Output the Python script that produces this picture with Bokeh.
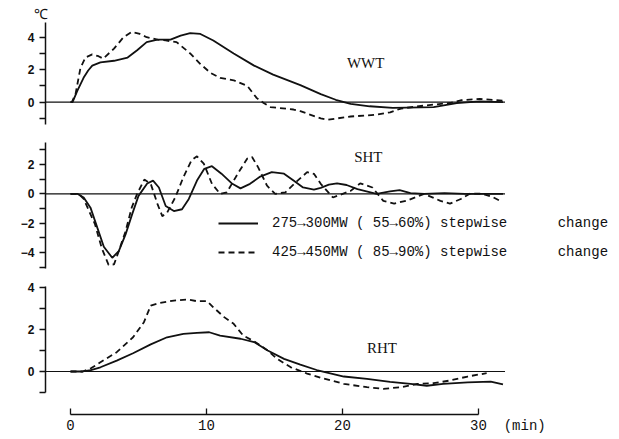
from bokeh.plotting import figure
from bokeh.layouts import column
from bokeh.models import Label, Legend, LegendItem, FixedTicker, Range1d, Title
from bokeh.embed import file_html
from bokeh.resources import INLINE

# ---------------- data (time in min, temperature deviation in deg C) -------------
wwt_a_t = [0, 0.15, 0.5, 0.96, 1.3, 1.6, 2.2, 3.2, 4.2, 4.9, 5.6, 6.4, 7.35, 8.1, 8.8, 9.55,
           10.5, 12.0, 13.5, 14.9, 16.9, 18.4, 19.5, 20.6, 22.0, 23.7, 26.7, 28.4, 30.1, 31.8]
wwt_a_v = [0, 0, 0.7, 1.5, 1.95, 2.25, 2.45, 2.55, 2.75, 3.2, 3.7, 3.85, 3.85, 4.1, 4.25, 4.2,
           3.8, 3.0, 2.25, 1.7, 1.05, 0.5, 0.15, -0.1, -0.25, -0.35, -0.3, -0.05, 0.05, 0.0]
wwt_b_t = [0, 0.1, 0.37, 0.73, 1.1, 1.6, 2.06, 2.4, 3.2, 3.9, 4.5, 5.1, 5.6, 6.4, 7.0, 7.8,
           8.8, 9.55, 10.3, 11.0, 12.0, 13.0, 13.7, 14.2, 14.7, 16.4, 16.9, 18.4, 18.9, 20.6,
           22.5, 23.5, 24.3, 26.2, 27.9, 28.7, 30.1, 31.8]
wwt_b_v = [0, 0, 0.5, 2.1, 2.75, 2.94, 2.83, 2.68, 3.3, 4.0, 4.33, 4.2, 4.0, 3.85, 3.8, 3.7,
           3.0, 2.35, 1.8, 1.5, 1.35, 1.0, 0.25, -0.05, -0.3, -0.45, -0.55, -1.0, -1.08, -0.88,
           -0.77, -0.62, -0.39, -0.19, -0.05, 0.12, 0.2, 0.1]

sht_a_t = [0, 0.5, 0.97, 1.47, 1.97, 2.45, 3.07, 3.55, 4.05, 4.53, 5.0, 5.64, 6.07, 6.5, 7.0,
           7.6, 8.2, 8.7, 9.3, 9.84, 10.4, 11.1, 11.9, 12.5, 13.2, 13.95, 14.8, 15.7, 16.4,
           17.1, 17.9, 18.4, 19.0, 19.6, 20.3, 21.1, 22.5, 23.5, 24.2, 25.0, 26.0, 27.5, 29.0, 31.8]
sht_a_v = [0, 0, -0.25, -0.94, -2.3, -3.6, -4.35, -3.9, -2.76, -1.4, -0.14, 0.7, 0.9, 0.43, -0.83,
           -1.17, -1.05, -0.35, 0.9, 1.7, 1.88, 1.37, 0.68, 0.37, 0.68, 1.17, 1.47, 1.37, 0.9,
           0.43, 0.28, 0.4, 0.62, 0.71, 0.6, 0.32, 0.0, 0.16, 0.25, 0.05, 0.0, 0.05, 0.0, 0.0]
sht_b_t = [0, 0.6, 0.97, 1.8, 2.3, 2.8, 3.2, 3.55, 4.05, 4.5, 4.9, 5.43, 5.9, 6.4, 6.75, 7.1,
           7.7, 8.3, 8.9, 9.3, 9.8, 10.4, 11.0, 11.5, 12.3, 13.0, 13.35, 13.8, 14.45, 15.05,
           15.8, 16.7, 17.4, 17.9, 18.4, 19.3, 20.6, 21.3, 22.2, 23.0, 23.8, 24.8, 26.0, 27.2,
           27.9, 28.7, 29.4, 30.3, 31.0, 31.5]
sht_b_v = [0, 0, -0.35, -2.07, -3.7, -4.83, -4.8, -3.9, -2.55, -0.94, 0, 0.97, 0.68, -0.7, -1.52,
           -1.29, -0.25, 1.13, 2.28, 2.55, 2.05, 0.68, 0, 0.1, 1.37, 2.4, 2.5, 1.8, 0.55, 0,
           0.1, 0.9, 1.47, 1.36, 0.68, -0.25, 0.2, 0.71, 0.43, -0.48, -0.67, -0.44, 0, -0.48,
           -0.67, -0.35, 0.02, 0, -0.2, -0.44]

rht_a_t = [0, 0.9, 1.5, 2.2, 3.4, 4.6, 5.9, 7.1, 8.3, 9.3, 10.2, 11.0, 12.5, 13.5, 14.5, 15.7,
           16.9, 18.1, 20.1, 21.8, 23.5, 25.0, 26.2, 27.4, 29.2, 30.9, 31.8]
rht_a_v = [0, 0, 0.07, 0.2, 0.52, 0.87, 1.29, 1.63, 1.79, 1.84, 1.87, 1.71, 1.56, 1.4, 1.0, 0.6,
           0.33, 0.07, -0.24, -0.35, -0.5, -0.59, -0.68, -0.59, -0.52, -0.48, -0.62]
rht_b_t = [0, 0.9, 1.5, 2.2, 3.4, 4.6, 5.4, 5.9, 6.6, 7.6, 8.6, 9.3, 10.05, 10.5, 11.3, 12.0,
           12.7, 13.5, 14.5, 15.2, 16.2, 17.4, 18.4, 20.1, 21.8, 23.0, 24.3, 25.5, 26.7, 27.9,
           29.2, 30.6]
rht_b_v = [0, 0, 0.15, 0.44, 0.92, 1.63, 2.35, 3.14, 3.27, 3.38, 3.43, 3.35, 3.35, 3.06, 2.59,
           2.27, 1.71, 1.44, 1.0, 0.6, 0.2, -0.1, -0.3, -0.59, -0.75, -0.83, -0.75, -0.59, -0.56,
           -0.43, -0.24, -0.08]

# zero reference line spans the recorded interval
base_t = [-1.84, 31.95]
base_v = [0, 0]

x_ticks = [0, 10, 20, 30]
NB = "\u00a0"
x_tick_labels = {0: "0", 10: "10", 20: "20", 30: NB * 7 + "30" + NB * 2 + "(min)"}
legend_a = "275\u2192300MW ( 55\u219260%) stepwise " + NB * 5 + "change"
legend_b = "425\u2192450MW ( 85\u219290%) stepwise " + NB * 5 + "change"

INK = "#111111"
LW = 1.8
DASH = "6 4"
X_RANGE = (-1.838, 40.368)


def make_fig(height, top, bottom, y0, y1, major, minor, xaxis=False):
    p = figure(width=619, height=height,
               x_range=Range1d(*X_RANGE), y_range=Range1d(y0, y1),
               output_backend="svg", toolbar_location=None,
               x_axis_location="below" if xaxis else None,
               min_border_left=45, min_border_right=0,
               min_border_top=top, min_border_bottom=bottom)
    p.outline_line_color = None
    p.grid.visible = False
    p.background_fill_color = "white"
    p.border_fill_color = "white"
    ax = p.yaxis[0]
    ax.ticker = FixedTicker(ticks=major, minor_ticks=minor)
    ax.axis_line_color = INK
    ax.axis_line_width = 1.5
    ax.major_tick_in = 0
    ax.major_tick_out = 6
    ax.minor_tick_in = 0
    ax.minor_tick_out = 6
    ax.major_tick_line_color = INK
    ax.minor_tick_line_color = INK
    ax.major_tick_line_width = 1.3
    ax.minor_tick_line_width = 1.3
    ax.major_label_standoff = 5
    ax.major_label_text_font = "Liberation Sans"
    ax.major_label_text_font_style = "bold"
    ax.major_label_text_font_size = "12px"
    ax.major_label_text_color = INK
    p.line(base_t, base_v, line_color=INK, line_width=1.2)
    return p


# ---------- WWT ----------
p1 = make_fig(130, 22, 6, -1.372, 4.905, [0, 2, 4], [-1, 1, 3])
p1.line(wwt_a_t, wwt_a_v, line_color=INK, line_width=LW)
p1.line(wwt_b_t, wwt_b_v, line_color=INK, line_width=LW, line_dash=DASH)
p1.add_layout(Title(text="\u2103", align="left", offset=-12, standoff=1,
                    text_font="Liberation Serif", text_font_size="14px",
                    text_font_style="normal", text_color=INK), "above")
p1.add_layout(Label(x=21.7, y=2.44, text="WWT", text_align="center", text_baseline="middle",
                    text_font="Liberation Serif", text_font_size="15px", text_color=INK))

# ---------- SHT ----------
p2 = make_fig(146, 12, 8, -5.08, 3.49, [-4, -2, 0, 2], [-5, -3, -1, 1, 3])
r_a = p2.line(sht_a_t, sht_a_v, line_color=INK, line_width=LW)
r_b = p2.line(sht_b_t, sht_b_v, line_color=INK, line_width=LW, line_dash=DASH)
p2.add_layout(Label(x=21.9, y=2.47, text="SHT", text_align="center", text_baseline="middle",
                    text_font="Liberation Serif", text_font_size="15px", text_color=INK))
leg = Legend(items=[LegendItem(label=legend_a, renderers=[r_a]),
                    LegendItem(label=legend_b, renderers=[r_b])],
             location=(173, 6), padding=0, margin=0, spacing=9,
             label_height=20, glyph_height=20, glyph_width=40, label_standoff=14,
             border_line_color=None, background_fill_alpha=0,
             label_text_font="Liberation Mono", label_text_font_size="14px",
             label_text_color=INK)
p2.add_layout(leg)

# ---------- RHT ----------
p3 = make_fig(163, 10, 25, -2.05, 4.05, [0, 2, 4], [-1, 1, 3], xaxis=True)
p3.yaxis[0].bounds = (-1.0, 4.05)
p3.line(rht_a_t, rht_a_v, line_color=INK, line_width=LW)
p3.line(rht_b_t, rht_b_v, line_color=INK, line_width=LW, line_dash=DASH)
p3.add_layout(Label(x=22.9, y=1.14, text="RHT", text_align="center", text_baseline="middle",
                    text_font="Liberation Serif", text_font_size="15px", text_color=INK))
xa = p3.xaxis[0]
xa.bounds = (0, 30)
xa.ticker = FixedTicker(ticks=x_ticks)
xa.major_label_overrides = x_tick_labels
xa.axis_line_color = INK
xa.axis_line_width = 1.5
xa.major_tick_in = 6
xa.major_tick_out = 0
xa.minor_tick_in = 0
xa.minor_tick_out = 0
xa.major_tick_line_color = INK
xa.major_tick_line_width = 1.3
xa.major_label_standoff = 3
xa.major_label_text_font = "Liberation Mono"
xa.major_label_text_font_size = "14px"
xa.major_label_text_color = INK

layout = column(p1, p2, p3, spacing=0)
open("out.html", "w").write(file_html(layout, INLINE))
